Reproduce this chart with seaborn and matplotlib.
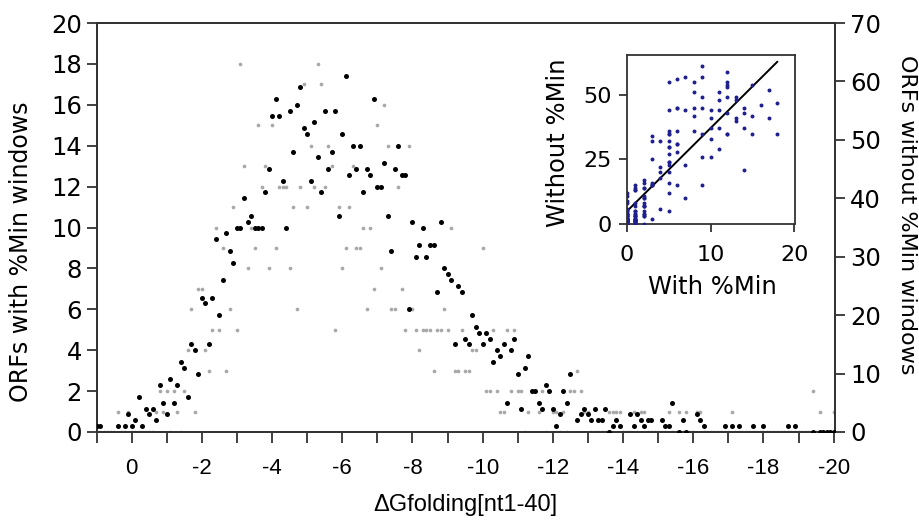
import numpy as np
import pandas as pd
import matplotlib
matplotlib.use("Agg")
import matplotlib.pyplot as plt
import seaborn as sns

# Valeurs (pas de 0.1 kcal/mol)
# ORFs sans fenetres %Min (points noirs, axe de droite, 0-70)
black_x = [1.0, 0.9, 0.4, 0.2, 0.1, 0.0, -0.1, -0.2, -0.3, -0.4, -0.5, -0.6, -0.7, -0.8, -0.9,
           -1.0, -1.1, -1.2, -1.3, -1.4, -1.5, -1.6, -1.7, -1.8, -1.9,
           -2.0, -2.1, -2.2, -2.3, -2.4, -2.5, -2.6, -2.7, -2.8, -2.9,
           -3.0, -3.1, -3.2, -3.3, -3.4, -3.5, -3.6, -3.7, -3.8, -3.9,
           -4.0, -4.1, -4.2, -4.3, -4.4, -4.5, -4.6, -4.7, -4.8, -4.9,
           -5.0, -5.1, -5.2, -5.3, -5.4, -5.5, -5.6, -5.7, -5.8, -5.9,
           -6.0, -6.1, -6.2, -6.3, -6.4, -6.5, -6.6, -6.7, -6.8, -6.9,
           -7.0, -7.1, -7.2, -7.3, -7.4, -7.5, -7.6, -7.7, -7.8, -7.9,
           -8.0, -8.1, -8.2, -8.3, -8.4, -8.5, -8.6, -8.7, -8.8, -8.9,
           -9.0, -9.1, -9.2, -9.3, -9.4, -9.5, -9.6, -9.7, -9.8, -9.9,
           -10.0, -10.1, -10.2, -10.3, -10.4, -10.5, -10.6, -10.7, -10.8, -10.9,
           -11.0, -11.1, -11.2, -11.3, -11.4, -11.5, -11.6, -11.7, -11.8, -11.9,
           -12.0, -12.1, -12.2, -12.3, -12.4, -12.5, -12.7, -12.8, -12.9,
           -13.0, -13.1, -13.2, -13.3, -13.4, -13.5, -13.6, -13.7, -13.8, -13.9,
           -14.2, -14.3, -14.4, -14.5, -14.6, -14.7, -14.8,
           -15.1, -15.2, -15.3, -15.4, -15.6, -15.7, -15.8,
           -16.1, -16.2, -16.3, -16.9, -17.1, -17.3, -17.7, -18.0, -18.7, -18.9,
           -19.4, -19.6, -19.7, -19.8, -19.9, -20.0]
black_y = [1, 1, 1, 1, 3, 1, 2, 6, 1, 4, 3, 4, 2, 8, 5,
           3, 9, 5, 8, 12, 11, 6, 15, 14, 10,
           23, 22, 15, 23, 33, 20, 26, 34, 31, 29,
           35, 35, 40, 36, 37, 35, 35, 35, 41, 45,
           54, 57, 54, 43, 35, 55, 48, 56, 59, 52,
           51, 43, 53, 47, 41, 55, 45, 48, 55, 37,
           51, 61, 44, 49, 45, 49, 41, 45, 44, 57,
           42, 42, 46, 37, 31, 45, 49, 44, 44, 21,
           36, 30, 32, 35, 30, 32, 32, 24, 36, 28,
           27, 26, 15, 25, 24, 16, 15, 20, 18, 17,
           15, 17, 16, 12, 14, 13, 15, 5, 14, 16,
           10, 4, 11, 13, 7, 7, 5, 4, 8, 7,
           4, 1, 3, 7, 5, 10, 2, 3, 4,
           3, 2, 4, 2, 2, 4, 0, 1, 2, 1,
           3, 1, 3, 2, 1, 2, 2,
           2, 1, 1, 5, 0, 2, 0,
           3, 2, 1, 1, 1, 1, 1, 1, 1, 1,
           0, 0, 0, 0, 0, 0]

# ORFs avec fenetres %Min (points gris, axe de gauche, 0-20)
grey_x = [1.0, 0.9, 0.8, 0.7, 0.6, 0.5, 0.4, 0.3, 0.2, 0.1, 0.0, -0.1, -0.2, -0.3, -0.4, -0.5,
          -0.6, -0.7, -0.8, -0.9, -1.0, -1.1, -1.2, -1.3, -1.4, -1.5, -1.6, -1.7, -1.8, -1.9,
          -2.0, -2.1, -2.2, -2.3, -2.4, -2.5, -2.6, -2.7, -2.8, -2.9,
          -3.0, -3.1, -3.2, -3.3, -3.4, -3.5, -3.6, -3.7, -3.8, -3.9,
          -4.0, -4.1, -4.2, -4.3, -4.4, -4.5, -4.6, -4.7, -4.8, -4.9,
          -5.0, -5.1, -5.2, -5.3, -5.4, -5.5, -5.6, -5.7, -5.8, -5.9,
          -6.0, -6.1, -6.2, -6.3, -6.4, -6.5, -6.6, -6.7, -6.8, -6.9,
          -7.0, -7.1, -7.2, -7.3, -7.4, -7.5, -7.6, -7.7, -7.8, -7.9,
          -8.0, -8.1, -8.2, -8.3, -8.4, -8.5, -8.6, -8.7, -8.8, -8.9,
          -9.0, -9.1, -9.2, -9.3, -9.4, -9.5, -9.6, -9.7, -9.8,
          -10.0, -10.1, -10.2, -10.3, -10.4, -10.5, -10.6, -10.7, -10.8, -10.9,
          -11.0, -11.1, -11.2, -11.3, -11.4, -11.5, -11.6, -11.7, -11.8, -11.9,
          -12.0, -12.1, -12.2, -12.3, -12.4, -12.5, -12.6, -12.7, -12.8, -12.9,
          -13.0, -13.1, -13.2, -13.3, -13.4, -13.5, -13.6, -13.7, -13.8, -13.9,
          -14.0, -14.1, -14.2, -14.3, -14.4, -14.5, -14.6, -14.7, -14.8, -14.9,
          -15.0, -15.1, -15.2, -15.3, -15.4, -15.5, -15.6, -15.7, -15.8, -15.9,
          -16.0, -16.1, -16.2, -16.3, -16.4, -16.5, -16.6, -16.7, -16.8, -16.9,
          -17.0, -17.1, -17.2, -17.3, -17.4, -17.5, -17.6, -17.7, -17.8, -17.9,
          -18.0, -18.1, -18.2, -18.3, -18.4, -18.5, -18.6, -18.7, -18.8, -18.9,
          -19.0, -19.1, -19.2, -19.3, -19.4, -19.5, -19.6, -19.7, -19.8, -19.9, -20.0]
grey_y = [0, 0, 0, 0, 0, 0, 1, 0, 0, 1, 0, 0, 0, 0, 0, 0,
          0, 1, 2, 1, 2, 0, 2, 1, 0, 2, 4, 6, 1, 7,
          7, 4, 3, 5, 10, 5, 9, 3, 6, 11,
          5, 18, 13, 8, 10, 9, 15, 12, 13, 8,
          15, 9, 12, 12, 12, 8, 11, 6, 12, 17,
          11, 14, 12, 18, 17, 12, 14, 13, 5, 11,
          8, 9, 11, 13, 9, 9, 10, 6, 10, 7,
          15, 8, 16, 14, 6, 6, 12, 7, 5, 14,
          6, 5, 4, 5, 5, 5, 3, 5, 5, 6,
          5, 10, 3, 3, 5, 3, 3, 4, 4,
          9, 2, 2, 5, 2, 1, 1, 5, 2, 5,
          2, 2, 0, 1, 2, 2, 1, 2, 0, 2,
          1, 1, 0, 1, 0, 2, 2, 3, 2, 1,
          1, 0, 0, 0, 0, 0, 1, 1, 1, 1,
          0, 0, 0, 1, 0, 1, 1, 0, 0, 0,
          0, 0, 0, 1, 0, 0, 1, 0, 1, 0,
          0, 1, 1, 0, 0, 0, 0, 0, 0, 0,
          0, 1, 0, 0, 0, 0, 0, 0, 0, 0,
          0, 0, 0, 0, 0, 0, 0, 0, 0, 0,
          0, 0, 0, 0, 2, 0, 1, 0, 0, 0, 1]

x_ticks = [0, -2, -4, -6, -8, -10, -12, -14, -16, -18, -20]

noirs = pd.DataFrame({'dg': black_x, 'sans_min': black_y})
gris = pd.DataFrame({'dg': grey_x, 'avec_min': grey_y})
# Inset : meme fenetre de dG, avec vs sans %Min
paires = pd.merge(gris.round(1), noirs.round(1), on='dg')

sns.set_style("ticks")
plt.rcParams['font.family'] = ['DejaVu Sans']
plt.rcParams['axes.unicode_minus'] = False
plt.rcParams['axes.linewidth'] = 1.3
plt.rcParams['axes.edgecolor'] = '#333333'
plt.rcParams['text.color'] = 'black'
plt.rcParams['axes.labelcolor'] = 'black'
plt.rcParams['xtick.labelcolor'] = 'black'
plt.rcParams['ytick.labelcolor'] = 'black'
etroit = ['Liberation Sans', 'DejaVu Sans']

fig = plt.figure(figsize=(9.2, 5.23), dpi=100)
ax = fig.add_axes([0.105, 0.174, 0.803, 0.782])
ax2 = ax.twinx()

sns.scatterplot(x='dg', y='avec_min', data=gris, ax=ax, color='#a8a8a8',
                s=7, linewidth=0, zorder=2)
sns.scatterplot(x='dg', y='sans_min', data=noirs, ax=ax2, color='black',
                s=13, linewidth=0, zorder=3)

ax.set_xlim(1.0, -20.05)
ax.set_ylim(0, 20)
ax2.set_ylim(0, 70)
ax.set_yticks(range(0, 21, 2))
ax2.set_yticks(range(0, 71, 10))
ax.set_xticks(x_ticks)
ax.set_xticks([1] + [-k for k in range(1, 20, 2)], minor=True)

ax.tick_params(axis='x', which='both', direction='out', length=8, width=1.3,
               pad=11, labelsize=16, colors='#333333', labelcolor='black')
for lab in ax.get_xticklabels():
    lab.set_family(etroit)
ax.tick_params(axis='y', direction='out', length=7, width=1.3, labelsize=17.5,
               colors='#333333', labelcolor='black')
ax2.tick_params(axis='y', direction='out', length=7, width=1.3, labelsize=17.5,
                colors='#333333', labelcolor='black')

ax.set_xlabel("ΔGfolding[nt1-40]", fontsize=17, family=etroit)
ax.xaxis.set_label_coords(0.499, -0.152)
ax.set_ylabel("ORFs with %Min windows", fontsize=17)
ax.yaxis.set_label_coords(-0.086, 0.44)
ax2.set_ylabel("ORFs without %Min windows", fontsize=16)
ax2.yaxis.label.set_rotation(270)
ax2.yaxis.set_label_coords(1.11, 0.53)

# Inset
axi = fig.add_axes([0.6815, 0.5717, 0.1826, 0.323])
sns.scatterplot(x='avec_min', y='sans_min', data=paires, ax=axi, color='#1f1f8f',
                s=8, linewidth=0, zorder=3)
sns.regplot(x='avec_min', y='sans_min', data=paires, ax=axi, scatter=False,
            ci=None, color='black', line_kws={'linewidth': 1.4})
axi.set_xlim(0, 20.1)
axi.set_ylim(0, 65.4)
axi.set_xticks([0, 10, 20])
axi.set_yticks([0, 25, 50])
axi.tick_params(axis='x', direction='out', length=6, width=1.3, labelsize=16, pad=9,
                colors='#333333', labelcolor='black')
axi.tick_params(axis='y', direction='out', length=6, width=1.3, labelsize=16, pad=5,
                colors='#333333', labelcolor='black')
axi.set_xlabel("With %Min", fontsize=17.5)
axi.set_ylabel("Without %Min", fontsize=17.5)
axi.xaxis.set_label_coords(0.506, -0.30)
axi.yaxis.set_label_coords(-0.34, 0.48)

fig.savefig("out.png", dpi=100)
